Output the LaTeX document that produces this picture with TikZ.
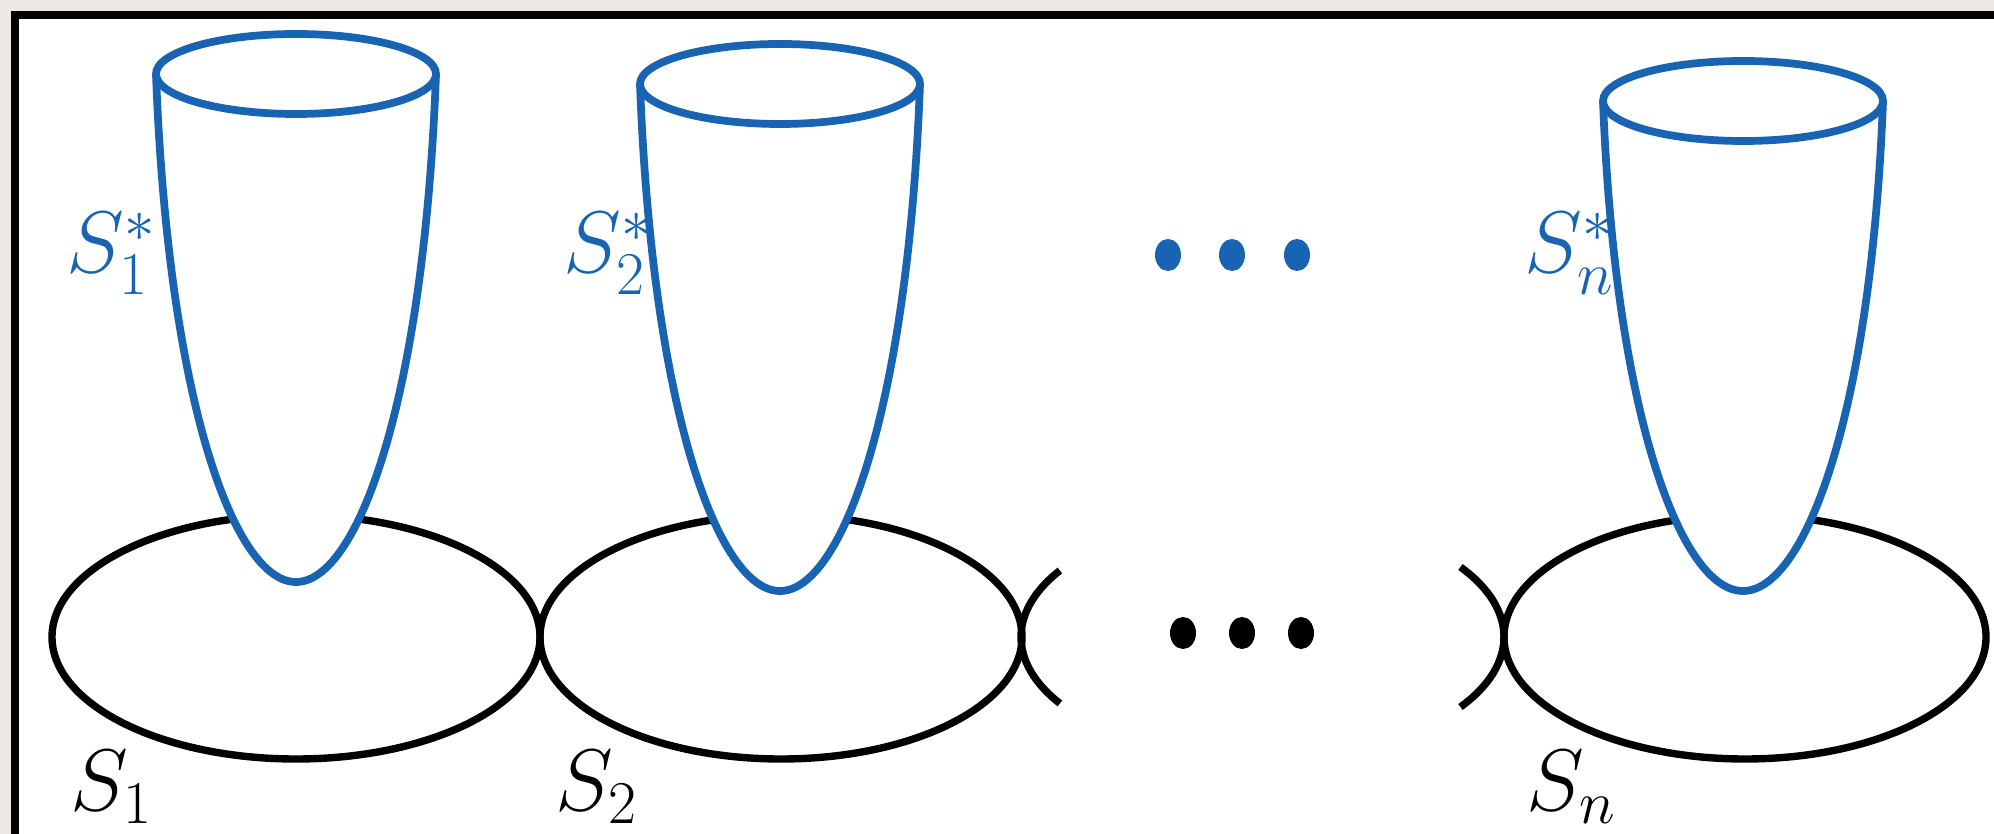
\documentclass[tikz,border=0pt]{standalone}
\definecolor{cupblue}{RGB}{24,100,178}
\definecolor{bgray}{RGB}{236,233,229}
\tikzset{
  pics/cup/.style={code={
    \path[fill=white] (-140,0) .. controls (-128,{0.64*#1}) and (-62,#1) .. (0,#1)
      .. controls (62,#1) and (128,{0.64*#1}) .. (140,0) -- cycle;
    \draw[cupline] (-140,0) .. controls (-128,{0.64*#1}) and (-62,#1) .. (0,#1)
      .. controls (62,#1) and (128,{0.64*#1}) .. (140,0);
    \draw[cupline,fill=white] (0,0) ellipse[x radius=140,y radius=40];
  }},
  ring/.style={draw=black,line width=2.1pt},
  cupline/.style={draw=cupblue,line width=2.2pt},
  lab/.style={inner sep=0pt,anchor=base west,font=\fontsize{23.5}{28}\selectfont},
}
\begin{document}
\begin{tikzpicture}[x=0.01cm,y=-0.01cm]
\useasboundingbox (0,0) rectangle (1994,834);
\fill[bgray] (0,0) rectangle (1994,834);
\fill[white] (15,15) rectangle (1994,834);
\draw[line width=2.2pt] (15,834) -- (15,15) -- (1994,15);
% base rings
\draw[ring] (296,637) ellipse[x radius=244,y radius=122];
\draw[ring] (781,637) ellipse[x radius=241,y radius=122];
\draw[ring] (1745,637) ellipse[x radius=241,y radius=122];
\draw[ring] ([shift={(1262,637)}]147:241 and 122) arc[start angle=147,end angle=213,x radius=241,y radius=122];
\draw[ring] ([shift={(1263,637)}]-35:241 and 122) arc[start angle=-35,end angle=35,x radius=241,y radius=122];
% cups
\pic at (296,74) {cup=508};
\pic at (780,84) {cup=507};
\pic at (1743,101) {cup=490};
% dots
\foreach \x in {1168,1232,1297} \fill[cupblue] (\x,255) ellipse[x radius=13,y radius=16];
\foreach \x in {1183,1242,1301} \fill[black] (\x,633) ellipse[x radius=13,y radius=16];
% labels
\node[lab,text=cupblue] (s1star) at (66,273) {$S_1^*$};
\node[lab,text=cupblue] (s2star) at (563,273) {$S_2^*$};
\node[lab,text=cupblue] (snstar) at (1524,273) {$S_n^*$};
\node[lab] (s1) at (70,810) {$S_1$};
\node[lab] (s2) at (555,810) {$S_2$};
\node[lab] (sn) at (1526,810) {$S_n$};
\end{tikzpicture}
\end{document}
